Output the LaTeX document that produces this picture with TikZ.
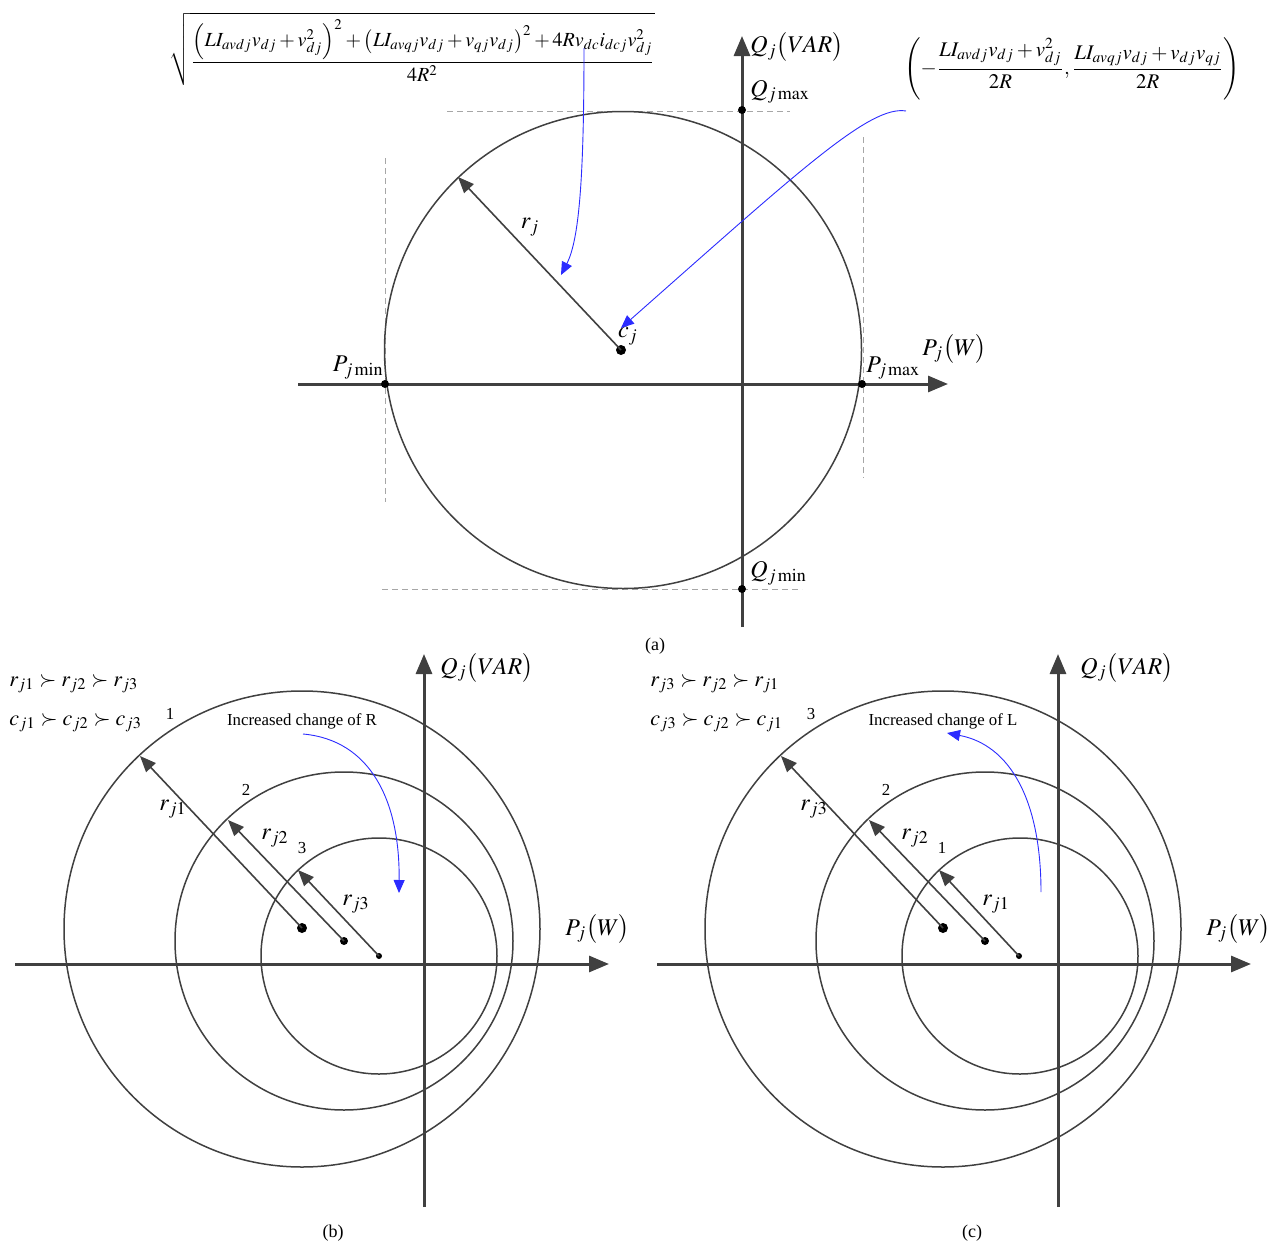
\documentclass[tikz,border=0pt]{standalone}
\usepackage{amsmath}
\usepackage{mathptmx}
\usepackage{fontspec}
\setmainfont{Liberation Serif}
\usetikzlibrary{arrows.meta}
\definecolor{axisgray}{HTML}{404040}
\definecolor{arrblue}{HTML}{2B2BFF}
\tikzset{
  axis/.style={draw=axisgray,line width=1.5pt,-{Triangle[length=10pt,width=8pt]}},
  ring/.style={draw=axisgray,line width=0.75pt},
  radarrow/.style={draw=axisgray,line width=0.8pt,-{Triangle[length=8pt,width=6.5pt]}},
  guide/.style={draw=gray!70,line width=0.5pt,dash pattern=on 3pt off 2pt},
  pointer/.style={draw=arrblue,line width=0.45pt,-{Triangle[length=6.5pt,width=5.5pt]}},
  lab/.style={inner sep=0pt,font=\fontsize{12}{14}\selectfont},
  small/.style={inner sep=0pt,font=\fontsize{8.4}{10}\selectfont},
  capt/.style={inner sep=0pt,font=\fontsize{9}{11}\selectfont},
  rel/.style={inner sep=0pt,anchor=west,font=\fontsize{11}{13}\selectfont},
  dotA/.style={circle,fill=black,inner sep=0pt,minimum size=5pt},
  dotB/.style={circle,fill=black,inner sep=0pt,minimum size=4pt},
  dotC/.style={circle,fill=black,inner sep=0pt,minimum size=3pt},
}
\begin{document}
\begin{tikzpicture}[x=0.5pt,y=-0.5pt]
\useasboundingbox (0,0) rectangle (1286,1258);
% ================= panel (a) =================
\coordinate (ca) at (623,350);
\draw[guide] (447,111) -- (790,111);
\draw[guide] (382,589) -- (802,589);
\draw[guide] (385,158) -- (385,502);
\draw[guide] (863,137) -- (863,478);
\coordinate (axL) at (298,384); \coordinate (axR) at (948,384);
\coordinate (ayB) at (742,627); \coordinate (ayT) at (742,36);
\draw[axis] (axL) -- (axR);
\draw[axis] (ayB) -- (ayT);
\draw[ring] (ca) circle[radius=238.5];
\node[dotA] (cdot) at (621,350) {};
\node[dotC,minimum size=4pt] (qmax) at (742,110) {};
\node[dotC,minimum size=4pt] (qmin) at (742,589) {};
\node[dotC,minimum size=4pt] (pmin) at (385,384) {};
\node[dotC,minimum size=4pt] (pmax) at (862,384) {};
\coordinate (rtip) at (458,177);
\draw[radarrow] (cdot.center) -- (rtip);
\node[lab] (rj) at (530,227) {$r_j$};
\node[lab] (cj) at (628,336) {$c_j$};
\node[lab,anchor=west] (qlab) at (750,47) {$Q_j\bigl(VAR\bigr)$};
\node[lab,anchor=west] (qmaxl) at (750,92) {$Q_{j\,\mathrm{max}}$};
\node[lab,anchor=west] (qminl) at (750,573) {$Q_{j\,\mathrm{min}}$};
\node[lab,anchor=east] (pminl) at (384,368) {$P_{j\,\mathrm{min}}$};
\node[lab,anchor=west] (pmaxl) at (866,368) {$P_{j\,\mathrm{max}}$};
\node[lab,anchor=west] (plab) at (922,349) {$P_j\bigl(W\bigr)$};
\node[inner sep=0pt,font=\fontsize{10}{12}\selectfont] (f1) at (412,49)
 {$\sqrt{\dfrac{\left(LI_{avdj}v_{dj}+v_{dj}^2\right)^2+\left(LI_{avqj}v_{dj}+v_{qj}v_{dj}\right)^2+4Rv_{dc}i_{dcj}v_{dj}^2}{4R^2}}$};
\node[inner sep=0pt,font=\fontsize{10.4}{12}\selectfont] (f2) at (1072,69)
 {$\left(-\dfrac{LI_{avdj}v_{dj}+v_{dj}^2}{2R},\dfrac{LI_{avqj}v_{dj}+v_{dj}v_{qj}}{2R}\right)$};
\coordinate (p1s) at (584,48); \coordinate (p1e) at (561,275);
\draw[pointer] (p1s) .. controls (584,180) and (579,240) .. (p1e);
\coordinate (p2s) at (906,111); \coordinate (p2e) at (621,328);
\draw[pointer] (p2s) .. controls (870,105) and (800,170) .. (p2e);
\node[capt] (capa) at (655,646) {(a)};
% ================= panel (b) =================
\coordinate (bxL) at (15,964); \coordinate (bxR) at (609,964);
\coordinate (byB) at (424,1207); \coordinate (byT) at (424,654);
\draw[axis] (bxL) -- (bxR);
\draw[axis] (byB) -- (byT);
\draw[ring] (302,929) circle[radius=238];
\draw[ring] (344,941) circle[radius=169];
\draw[ring] (379,956) circle[radius=118];
\node[dotA] (b1) at (302,928) {};
\node[dotB] (b2) at (344,941) {};
\node[dotC] (b3) at (379,956) {};
\coordinate (b1t) at (140,756);
\coordinate (b2t) at (228,820);
\coordinate (b3t) at (298,870);
\draw[radarrow] (b1.center) -- (b1t);
\draw[radarrow] (b2.center) -- (b2t);
\draw[radarrow] (b3.center) -- (b3t);
\node[small] (bn1) at (170,714) {1};
\node[small] (bn2) at (246,790) {2};
\node[small] (bn3) at (302,848) {3};
\node[lab] (br1) at (173,809) {$r_{j1}$};
\node[lab] (br2) at (275,838) {$r_{j2}$};
\node[lab] (br3) at (356,904) {$r_{j3}$};
\node[rel] (brel) at (9,684) {$r_{j1}\succ r_{j2}\succ r_{j3}$};
\node[rel] (bcel) at (9,723) {$c_{j1}\succ c_{j2}\succ c_{j3}$};
\node[small] (btxt) at (302,721) {Increased change of R};
\node[lab,anchor=west] (bq) at (440,668) {$Q_j\bigl(VAR\bigr)$};
\node[lab,anchor=west] (bp) at (565,929) {$P_j\bigl(W\bigr)$};
\coordinate (bps) at (303,734); \coordinate (bpe) at (399,893);
\draw[pointer] (bps) .. controls (370,740) and (400,800) .. (bpe);
\node[capt] (capb) at (333,1233) {(b)};
% ================= panel (c) =================
\coordinate (cxL) at (657,964); \coordinate (cxR) at (1251,964);
\coordinate (cyB) at (1058,1207); \coordinate (cyT) at (1058,654);
\draw[axis] (cxL) -- (cxR);
\draw[axis] (cyB) -- (cyT);
\draw[ring] (943,929) circle[radius=238];
\draw[ring] (985,941) circle[radius=169];
\draw[ring] (1020,956) circle[radius=118];
\node[dotA] (c3) at (943,928) {};
\node[dotB] (c2) at (985,941) {};
\node[dotC] (c1) at (1019,956) {};
\coordinate (c3t) at (781,756);
\coordinate (c2t) at (869,820);
\coordinate (c1t) at (939,870);
\draw[radarrow] (c3.center) -- (c3t);
\draw[radarrow] (c2.center) -- (c2t);
\draw[radarrow] (c1.center) -- (c1t);
\node[small] (cn3) at (811,714) {3};
\node[small] (cn2) at (886,790) {2};
\node[small] (cn1) at (942,848) {1};
\node[lab] (cr3) at (814,809) {$r_{j3}$};
\node[lab] (cr2) at (915,838) {$r_{j2}$};
\node[lab] (cr1) at (996,904) {$r_{j1}$};
\node[rel] (crel) at (650,684) {$r_{j3}\succ r_{j2}\succ r_{j1}$};
\node[rel] (ccel) at (650,723) {$c_{j3}\succ c_{j2}\succ c_{j1}$};
\node[small] (ctxt) at (943,721) {Increased change of L};
\node[lab,anchor=west] (cq) at (1080,668) {$Q_j\bigl(VAR\bigr)$};
\node[lab,anchor=west] (cp) at (1206,929) {$P_j\bigl(W\bigr)$};
\coordinate (cps) at (1041,892); \coordinate (cpe) at (947,733);
\draw[pointer] (cps) .. controls (1041,800) and (1010,745) .. (cpe);
\node[capt] (capc) at (972,1233) {(c)};
\end{tikzpicture}
\end{document}
